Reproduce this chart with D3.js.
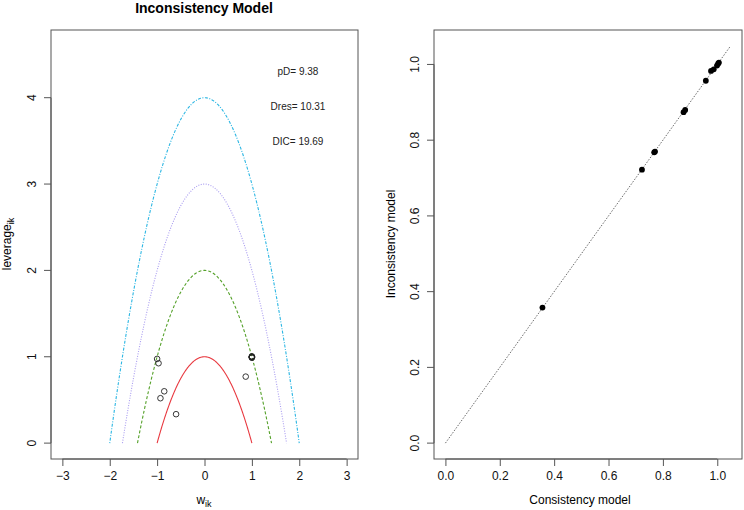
<!DOCTYPE html>
<html>
<head>
<meta charset="utf-8">
<script src="https://cdn.jsdelivr.net/npm/d3@7"></script>
<style>
  body { margin: 0; background: #fff; }
  svg { display: block; font-family: "Liberation Sans", Arial, sans-serif; }
</style>
</head>
<body>
<svg id="chart" width="744" height="510"></svg>
<script>
// left panel: leverage vs w_ik
var wValues = [-1.0, -0.97, -0.85, -0.93, -0.6, 0.87, 1.0, 1.0, 1.0, 1.0, 1.0, 1.0];
var leverageValues = [0.975, 0.925, 0.60, 0.52, 0.335, 0.77, 0.99, 1.0, 1.005, 0.995, 1.0, 0.99];
var curveLevels = [1, 2, 3, 4];
var curveColors = ["#e8383f", "#55a12a", "#a99cf0", "#2bb6e3"];
var curveDashes = [null, "3,2", "1,1.5", "1,1.5,3,1.5"];
var statLabels = ["pD= 9.38", "Dres= 10.31", "DIC= 19.69"];
var leftXTicks = [-3, -2, -1, 0, 1, 2, 3];
var leftYTicks = [0, 1, 2, 3, 4];

// right panel: inconsistency vs consistency model
var consistencyValues = [0.357, 0.723, 0.768, 0.771, 0.876, 0.882, 0.958, 0.977, 0.987, 0.999, 1.003, 1.006];
var inconsistencyValues = [0.358, 0.722, 0.768, 0.770, 0.874, 0.880, 0.957, 0.983, 0.987, 0.997, 1.002, 1.005];
var rightTicks = [0.0, 0.2, 0.4, 0.6, 0.8, 1.0];

var svg = d3.select("#chart");

function expand(lo, hi) {
  var d = (hi - lo) * 0.04;
  return [lo - d, hi + d];
}

function drawAxes(g, x, y, xt, yt, fmt, box) {
  g.append("rect")
    .attr("x", box.x0).attr("y", box.y0)
    .attr("width", box.x1 - box.x0).attr("height", box.y1 - box.y0)
    .attr("fill", "none").attr("stroke", "#555").attr("stroke-width", 1);

  var xa = g.append("g").attr("transform", "translate(0," + box.y1 + ")")
    .call(d3.axisBottom(x).tickValues(xt).tickFormat(fmt).tickSize(7).tickPadding(5));
  xa.select(".domain").attr("stroke", "#555")
    .attr("d", "M" + x(xt[0]) + ",0H" + x(xt[xt.length - 1]));
  xa.selectAll("line").attr("stroke", "#555");
  xa.selectAll("text").attr("font-size", 12).attr("fill", "#111");

  var ya = g.append("g").attr("transform", "translate(" + box.x0 + ",0)")
    .call(d3.axisLeft(y).tickValues(yt).tickFormat(fmt).tickSize(7));
  ya.select(".domain").attr("stroke", "#555")
    .attr("d", "M0," + y(yt[0]) + "V" + y(yt[yt.length - 1]));
  ya.selectAll("line").attr("stroke", "#555");
  ya.selectAll("text")
    .attr("font-size", 12).attr("fill", "#111")
    .attr("text-anchor", "middle")
    .attr("x", -19).attr("dy", 0)
    .attr("transform", function(d) { return "rotate(-90," + (-19) + "," + y(d) + ")"; })
    .attr("y", function(d) { return y(d) + 4; });
  ya.selectAll(".tick").attr("transform", null)
    .select("line").attr("y1", function(d) { return y(d); }).attr("y2", function(d) { return y(d); });
}

// ---------- left panel ----------
var lbox = {x0: 51, x1: 358, y0: 30, y1: 459};
var lx = d3.scaleLinear().domain(expand(-3, 3)).range([lbox.x0, lbox.x1]);
var ly = d3.scaleLinear().domain(expand(0, 4.6)).range([lbox.y1, lbox.y0]);
var left = svg.append("g");

drawAxes(left, lx, ly, leftXTicks, leftYTicks, d3.format("d"), lbox);

var line = d3.line().x(function(d) { return lx(d[0]); }).y(function(d) { return ly(d[1]); });
curveLevels.forEach(function(c, i) {
  var r = Math.sqrt(c);
  var pts = d3.range(0, 201).map(function(k) {
    var w = -r + 2 * r * k / 200;
    return [w, c - w * w];
  });
  left.append("path")
    .attr("d", line(pts))
    .attr("fill", "none")
    .attr("stroke", curveColors[i])
    .attr("stroke-width", 1.1)
    .attr("stroke-dasharray", curveDashes[i]);
});

left.selectAll("circle.pt")
  .data(wValues.map(function(w, i) { return [w, leverageValues[i]]; }))
  .enter().append("circle")
  .attr("cx", function(d) { return lx(d[0]); })
  .attr("cy", function(d) { return ly(d[1]); })
  .attr("r", 2.8)
  .attr("fill", "none")
  .attr("stroke", "#222")
  .attr("stroke-width", 0.9);

left.selectAll("text.stat")
  .data(statLabels)
  .enter().append("text")
  .attr("x", 298)
  .attr("y", function(d, i) { return 75 + i * 35; })
  .attr("text-anchor", "middle")
  .attr("font-size", 10)
  .attr("fill", "#222")
  .text(function(d) { return d; });

left.append("text")
  .attr("x", 204).attr("y", 13)
  .attr("text-anchor", "middle")
  .attr("font-size", 14).attr("font-weight", "bold")
  .text("Inconsistency Model");

var xl = left.append("text")
  .attr("x", 204).attr("y", 504)
  .attr("text-anchor", "middle")
  .attr("font-size", 12);
xl.append("tspan").text("w");
xl.append("tspan").attr("font-size", 9).attr("dy", 3).text("ik");

var yl = left.append("text")
  .attr("transform", "translate(11,244) rotate(-90)")
  .attr("text-anchor", "middle")
  .attr("font-size", 12);
yl.append("tspan").text("leverage");
yl.append("tspan").attr("font-size", 9).attr("dy", 3).text("ik");

// ---------- right panel ----------
var rbox = {x0: 434, x1: 742, y0: 30, y1: 459};
var rx = d3.scaleLinear().domain(expand(0, 1.049)).range([rbox.x0, rbox.x1]);
var ry = d3.scaleLinear().domain(expand(0, 1.049)).range([rbox.y1, rbox.y0]);
var right = svg.append("g");

drawAxes(right, rx, ry, rightTicks, rightTicks, d3.format(".1f"), rbox);

right.append("line")
  .attr("x1", rx(0)).attr("y1", ry(0))
  .attr("x2", rx(1.049)).attr("y2", ry(1.049))
  .attr("stroke", "#444")
  .attr("stroke-width", 0.8)
  .attr("stroke-dasharray", "1.5,1.5");

right.selectAll("circle.pt")
  .data(consistencyValues.map(function(v, i) { return [v, inconsistencyValues[i]]; }))
  .enter().append("circle")
  .attr("cx", function(d) { return rx(d[0]); })
  .attr("cy", function(d) { return ry(d[1]); })
  .attr("r", 2.9)
  .attr("fill", "#000");

right.append("text")
  .attr("x", 580).attr("y", 504)
  .attr("text-anchor", "middle")
  .attr("font-size", 12)
  .text("Consistency model");

right.append("text")
  .attr("transform", "translate(395,244) rotate(-90)")
  .attr("text-anchor", "middle")
  .attr("font-size", 12)
  .text("Inconsistency model");
</script>
</body>
</html>
